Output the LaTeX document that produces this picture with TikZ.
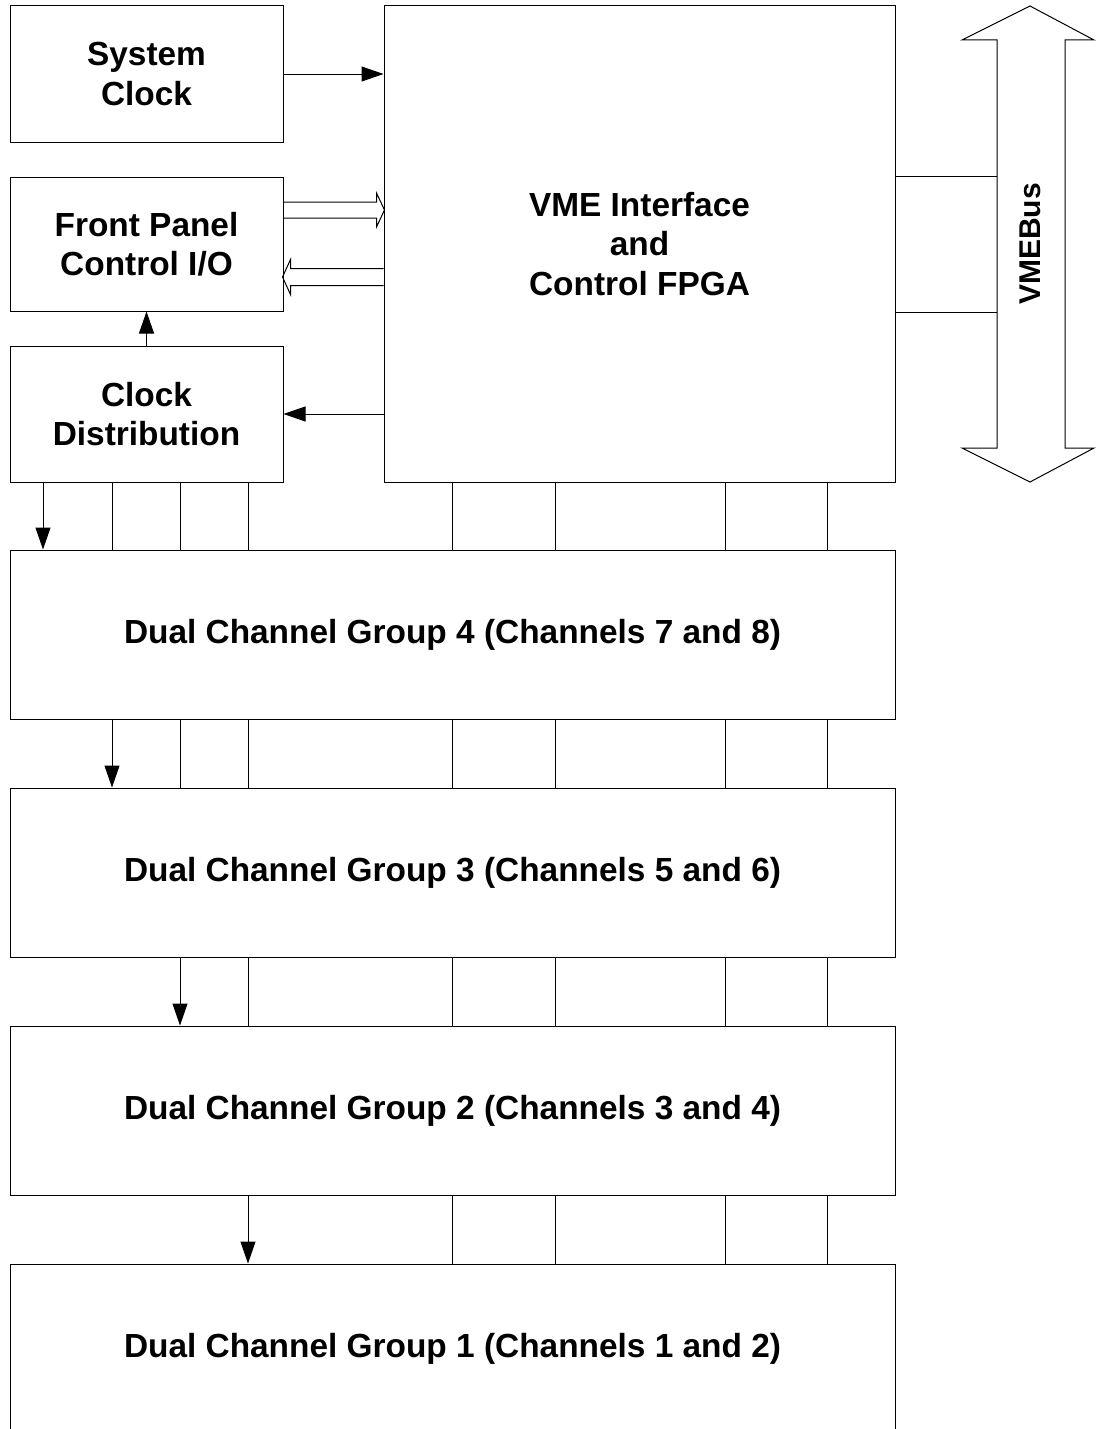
\documentclass[tikz,border=0pt]{standalone}
\usepackage{fontspec}
\setmainfont{Liberation Sans}
\usetikzlibrary{arrows.meta,calc}

\tikzset{
  blk/.style={draw, line width=1pt, align=center, inner sep=0pt,
    font=\bfseries\fontsize{33.4}{39.5}\selectfont},
  sig/.style={line width=1pt, -{Triangle[length=22pt,width=15pt]}},
  tap/.style={line width=1pt},
}

\begin{document}
\begin{tikzpicture}[x={(1pt,0pt)}, y={(0pt,-1pt)}]

% page, in pixel coordinates (y runs down)
\useasboundingbox (0,0) rectangle (1095,1429);

% left column
\node[blk, minimum width=273pt, minimum height=136pt] (sysclk) at (146.5,74) {System\\Clock};
\node[blk, minimum width=273pt, minimum height=134pt] (fpio) at (146.5,244) {Front Panel\\Control I/O};
\node[blk, minimum width=273pt, minimum height=136pt] (clkdist) at (146.5,414) {Clock\\Distribution};

% interface block
\node[blk, minimum width=511pt, minimum height=476pt] (fpga) at (639.5,244) {VME Interface\\and\\Control FPGA};

% channel groups, top to bottom
\foreach \g/\a/\b [count=\i from 0] in {4/7/8, 3/5/6, 2/3/4, 1/1/2}
    \node[blk, minimum width=885pt, minimum height=169pt] (g\g) at (452.5,{634.5+238*\i})
        {Dual Channel Group \g\ (Channels \a\ and \b)};

% clock paths
\draw[sig] (sysclk.east) -- (sysclk.east -| fpga.west);
\draw[sig] (fpga.west |- clkdist.east) -- (clkdist.east);
\draw[sig] (clkdist.north) -- (fpio.south);

% front panel buses (hollow arrows)
\coordinate (fpin) at ($(fpio.east)+(0,-34)$);
\coordinate (fpout) at ($(fpga.west)+(0,33)$);
\draw[tap] ($(fpin)+(0,-8)$) -- ++(93,0) -- ++(0,-9) -- ++(8,17) -- ++(-8,17) -- ++(0,-9) -- ++(-93,0);
\draw[tap] ($(fpout)+(0,-8.5)$) -- ++(-93,0) -- ++(0,-9) -- ++(-8,17.5) -- ++(8,17.5) -- ++(0,-9) -- ++(93,0);

% VMEBus
\coordinate (bus) at (1030,244);
\draw[tap] ($(bus)+(0,-238)$) -- ++(64,34) -- ++(-29,0) -- ++(0,408) -- ++(29,0)
    -- ++(-64,34) -- ++(-68,-34) -- ++(35,0) -- ++(0,-408) -- ++(-35,0) -- cycle;
\node[rotate=90, font=\bfseries\fontsize{30}{36}\selectfont] (busl) at (bus) {VMEBus};
\draw[tap] ($(fpga.east)+(0,-68)$) -- ($(bus)+(-33,-68)$);
\draw[tap] ($(fpga.east)+(0,68)$) -- ($(bus)+(-33,68)$);

% taps into the first group
\foreach \x [count=\i] in {43,112,180,248} {
    \ifnum\i=1
        \draw[sig] (clkdist.south -| \x,0) -- (g4.north -| \x,0);
    \else
        \draw[tap] (clkdist.south -| \x,0) -- (g4.north -| \x,0);
    \fi
}
\foreach \x in {452,555,725,827}
    \draw[tap] (fpga.south -| \x,0) -- (g4.north -| \x,0);

% taps between groups
\foreach \up/\dn/\k in {g4/g3/2, g3/g2/3, g2/g1/4} {
    \foreach \x [count=\i] in {43,112,180,248} {
        \ifnum\i=\k
            \draw[sig] (\up.south -| \x,0) -- (\dn.north -| \x,0);
        \else\ifnum\i>\k
            \draw[tap] (\up.south -| \x,0) -- (\dn.north -| \x,0);
        \fi\fi
    }
    \foreach \x in {452,555,725,827}
        \draw[tap] (\up.south -| \x,0) -- (\dn.north -| \x,0);
}

\end{tikzpicture}
\end{document}
